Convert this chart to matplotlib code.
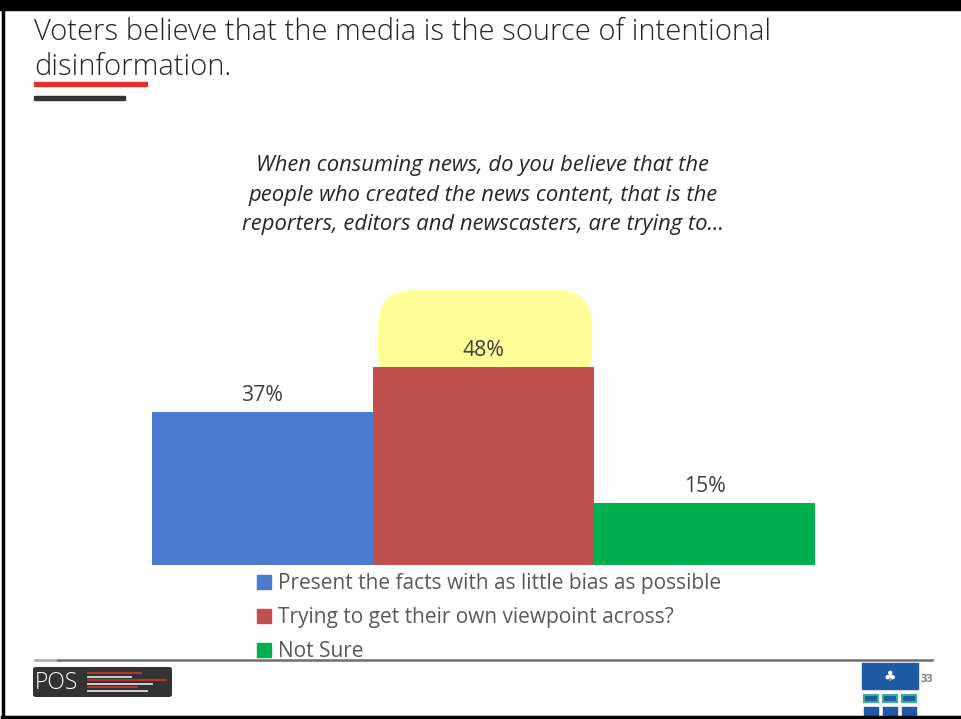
import matplotlib
matplotlib.use("Agg")
import matplotlib.pyplot as plt
from matplotlib.patches import Rectangle, FancyBboxPatch
from matplotlib.lines import Line2D

# ---- data ----
categories = ["Present the facts with as little bias as possible",
              "Trying to get their own viewpoint across?",
              "Not Sure"]
values = [37, 48, 15]
value_labels = ["37%", "48%", "15%"]
colors = ["#4a7bd0", "#c0504d", "#00b050"]
title_lines = ["Voters believe that the media is the source of intentional",
               "disinformation."]
question_lines = ["When consuming news, do you believe that the",
                  "people who created the news content, that is the",
                  "reporters, editors and newscasters, are trying to..."]
page_number = "33"

W, H = 961, 719
fig = plt.figure(figsize=(W / 100, H / 100), dpi=100)
fig.patch.set_facecolor("white")
renderer = fig.canvas.get_renderer()


def fx(x):
    return x / W


def fy(y):
    return 1 - y / H


def fit_size(text, target_w, **kw):
    t = fig.text(0, 0, text, fontsize=10, **kw)
    w = t.get_window_extent(renderer).width
    t.remove()
    return 10 * target_w / w


BODY = "Open Sans"
TXT = "#404040"

# ---- frame ----
fig.patches.append(Rectangle((0, fy(10)), 1, 10 / H, transform=fig.transFigure,
                             color="black", zorder=0))
fig.add_artist(Line2D([fx(3), fx(3)], [fy(716), fy(8)], color="black", lw=2.5))
fig.add_artist(Line2D([fx(2), fx(959)], [fy(716.5), fy(716.5)], color="black", lw=2.5))

# ---- title ----
tsize = fit_size(title_lines[0], 735, family=BODY, fontweight="light")
fig.text(fx(34), fy(40), title_lines[0], fontsize=tsize, family=BODY,
         fontweight="light", color="#262626", va="baseline")
fig.text(fx(34), fy(75), title_lines[1], fontsize=tsize, family=BODY,
         fontweight="light", color="#262626", va="baseline")
fig.patches.append(Rectangle((fx(34), fy(86)), 113 / W, 4 / H,
                             transform=fig.transFigure, color="#e0302a"))
fig.patches.append(Rectangle((fx(34), fy(100)), 91 / W, 4 / H,
                             transform=fig.transFigure, color="#333333"))

# ---- question ----
qsize = fit_size(question_lines[2], 482, family=BODY, style="italic")
for i, line in enumerate(question_lines):
    fig.text(fx(483), fy(171 + 29.5 * i), line, fontsize=qsize, family=BODY,
             style="italic", color="#262626", ha="center", va="baseline")

# ---- chart ----
ax_left, ax_right, ax_bottom, ax_top = 152, 815, 565, 280
ax = fig.add_axes([fx(ax_left), fy(ax_bottom), (ax_right - ax_left) / W,
                   (ax_bottom - ax_top) / H])
px_per_unit = 198 / 48.0
ymax = (ax_bottom - ax_top) / px_per_unit
ax.set_xlim(-0.5, 2.5)
ax.set_ylim(0, ymax)
ax.axis("off")

x = list(range(len(values)))
bars = ax.bar(x, values, width=1.0, color=colors, zorder=3, label=None)

# highlight behind the largest bar
imax = values.index(max(values))
bar_px = (ax_right - ax_left) / 3.0
r_px = 36
hl_left = imax - 0.5 + 5 / bar_px
hl_right = imax + 0.5 - 2 / bar_px
hl_top = (ax_bottom - 290) / px_per_unit
aspect = bar_px / px_per_unit
hl = FancyBboxPatch((hl_left, values[imax] - 5), hl_right - hl_left,
                    hl_top - values[imax] + 5,
                    boxstyle=f"round,pad=0,rounding_size={r_px / bar_px}",
                    mutation_aspect=aspect, facecolor="#ffff99",
                    edgecolor="none", zorder=1)
ax.add_patch(hl)

lsize = fit_size("37%", 42, family=BODY)
for xi, v, lab in zip(x, values, value_labels):
    ax.annotate(lab, (xi, v), xytext=(0, 4.5), textcoords="offset points",
                ha="center", va="bottom", fontsize=lsize, family=BODY,
                color=TXT, zorder=4)

# ---- legend ----
legsize = fit_size(categories[0], 443, family=BODY)
handles = [Rectangle((0, 0), 1, 1, color=c) for c in colors]
leg = fig.legend(handles, categories, loc="upper left",
                 bbox_to_anchor=(fx(251), fy(567)), frameon=False,
                 prop={"family": BODY, "size": legsize},
                 handlelength=0.68, handleheight=0.68, handletextpad=0.3,
                 labelspacing=0.62, borderaxespad=0, borderpad=0.3)
for t in leg.get_texts():
    t.set_color("#595959")

# ---- footer ----
fig.add_artist(Line2D([fx(35), fx(58)], [fy(660), fy(660)], color="#a6a6a6", lw=1.8))
fig.add_artist(Line2D([fx(58), fx(932)], [fy(660), fy(660)], color="#6e6e6e", lw=1.8))
logo = FancyBboxPatch((fx(33), fy(697)), 139 / W, 30 / H,
                      boxstyle="round,pad=0,rounding_size=0.003",
                      transform=fig.transFigure, facecolor="#333333",
                      edgecolor="none")
fig.patches.append(logo)
fig.text(fx(35), fy(683), "POS", fontsize=16.5, family=BODY, color="white",
         va="center", fontweight="light")
for (y0, x1, c) in [(673, 141, "#c0392b"), (676.5, 131, "#dddddd"), (680, 166, "#c0392b"),
                    (683.5, 152, "#dddddd"), (687, 137, "#c0392b"), (690.5, 147, "#dddddd")]:
    fig.add_artist(Line2D([fx(88), fx(x1)], [fy(y0), fy(y0)], color=c, lw=1.3))

# right logo
fig.patches.append(Rectangle((fx(862), fy(689)), 56 / W, 26 / H,
                             transform=fig.transFigure, color="#1f5aa6"))
fig.text(fx(890), fy(677), "♣", fontsize=10, color="white", ha="center",
         va="center", family="DejaVu Sans")
for i in range(3):
    fig.patches.append(Rectangle((fx(864 + 19 * i), fy(702)), 14 / W, 7 / H,
                                 transform=fig.transFigure, facecolor="#1f5aa6",
                                 edgecolor="#3aae8e", lw=1.5))
    fig.patches.append(Rectangle((fx(864 + 19 * i), fy(716)), 14 / W, 9 / H,
                                 transform=fig.transFigure, color="#1f5aa6"))
fig.text(fx(921), fy(680), page_number, fontsize=8, color="#7f7f7f",
         fontweight="bold", va="center", family=BODY)

fig.savefig("out.png", dpi=100)
